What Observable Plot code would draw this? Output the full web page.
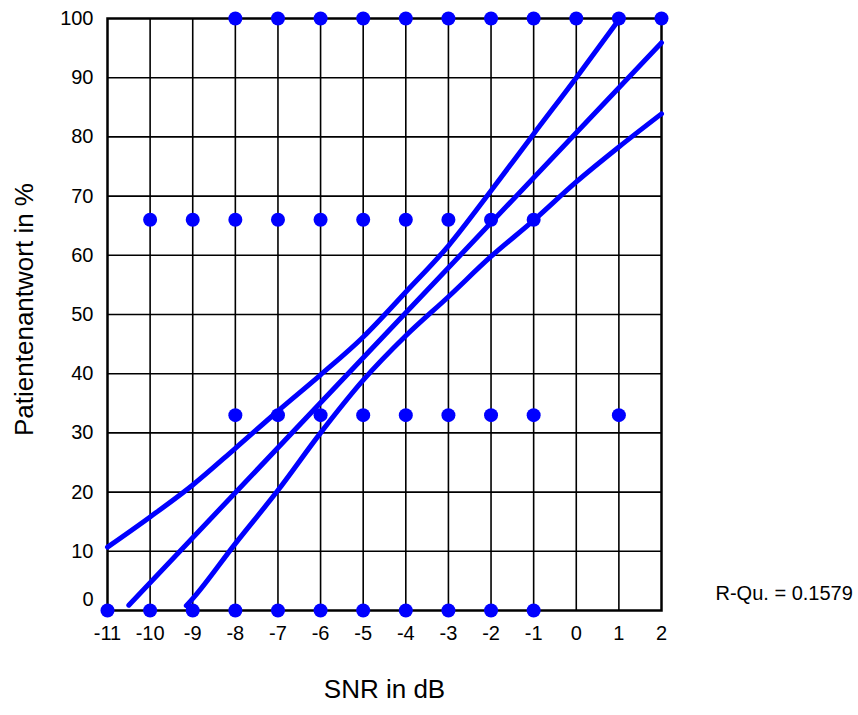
<!DOCTYPE html>
<html>
<head>
<meta charset="utf-8">
<script src="https://cdn.jsdelivr.net/npm/d3@7"></script>
<script src="https://cdn.jsdelivr.net/npm/@observablehq/plot@0.6"></script>
<style>
  html, body { margin: 0; padding: 0; background: #ffffff; }
  #chart svg { display: block; }
</style>
</head>
<body>
<div id="chart"></div>
<script>
// Observed responses (SNR in dB, patient response in %)
const snr = [
  -8, -7, -6, -5, -4, -3, -2, -1, 0, 1, 2,
  -10, -9, -8, -7, -6, -5, -4, -3, -2, -1,
  -8, -7, -6, -5, -4, -3, -2, -1, 1,
  -11, -10, -9, -8, -7, -6, -5, -4, -3, -2, -1
];
const response = [
  100, 100, 100, 100, 100, 100, 100, 100, 100, 100, 100,
  66, 66, 66, 66, 66, 66, 66, 66, 66, 66,
  33, 33, 33, 33, 33, 33, 33, 33, 33,
  0, 0, 0, 0, 0, 0, 0, 0, 0, 0, 0
];

// Regression line
const fitX = [-10.5, 2];
const fitY = [0.9, 95.9];

// Upper confidence band
const upperX = [-11, -10, -9, -8, -7, -6, -5, -4, -3, -2, -1, 0, 1];
const upperY = [10.7, 15.8, 21.2, 27.4, 33.7, 39.8, 46.2, 53.8, 61.6, 70.9, 80.5, 90, 99.8];

// Lower confidence band
const lowerX = [-9.15, -9, -8, -7, -6, -5, -4, -3, -2, -1, 0, 1, 2];
const lowerY = [0.8, 2, 11.3, 20.3, 30, 38.9, 46.4, 53, 59.8, 65.9, 72.4, 78.3, 83.9];

// Axis ticks
const xTicks = [-11, -10, -9, -8, -7, -6, -5, -4, -3, -2, -1, 0, 1, 2];
const yTicks = [10, 20, 30, 40, 50, 60, 70, 80, 90, 100];
const xGrid = [-10, -9, -8, -7, -6, -5, -4, -3, -2, -1, 0, 1];
const yGrid = [10, 20, 30, 40, 50, 60, 70, 80, 90];

const xTitle = "SNR in dB";
const yTitle = "Patientenantwort in %";
const rLabel = "R-Qu. = 0.1579";

const points = snr.map((x, i) => ({x, y: response[i]}));
const fit = fitX.map((x, i) => ({x, y: fitY[i]}));
const upper = upperX.map((x, i) => ({x, y: upperY[i]}));
const lower = lowerX.map((x, i) => ({x, y: lowerY[i]}));

const blue = "#0000ff";

const chart = Plot.plot({
  width: 858,
  height: 715,
  marginLeft: 107,
  marginRight: 197,
  marginTop: 18,
  marginBottom: 105,
  style: {fontFamily: "'Liberation Sans', Arial, sans-serif", fontSize: "20px", background: "#ffffff", color: "black"},
  x: {domain: [-11, 2]},
  y: {domain: [0, 100]},
  marks: [
    Plot.ruleX(xGrid, {stroke: "black", strokeWidth: 1.6}),
    Plot.ruleY(yGrid, {stroke: "black", strokeWidth: 1.6}),
    Plot.frame({stroke: "black", strokeWidth: 2.5}),
    Plot.axisX({ticks: xTicks, tickSize: 0, tickPadding: 15, tickFormat: d => String(d), label: null, fontSize: 20, fill: "black"}),
    Plot.axisY({ticks: yTicks, tickSize: 0, tickPadding: 14, tickFormat: d => String(d), label: null, fontSize: 20, fill: "black"}),
    Plot.axisY({ticks: [0], tickSize: 0, tickPadding: 14, tickFormat: d => String(d), label: null, fontSize: 20, dy: -11, fill: "black"}),
    Plot.line(upper, {x: "x", y: "y", stroke: blue, strokeWidth: 5, curve: "monotone-x"}),
    Plot.line(lower, {x: "x", y: "y", stroke: blue, strokeWidth: 5, curve: "monotone-x"}),
    Plot.line(fit, {x: "x", y: "y", stroke: blue, strokeWidth: 5}),
    Plot.dot(points, {x: "x", y: "y", r: 7, fill: blue, stroke: "none"}),
    Plot.text([xTitle], {frameAnchor: "bottom", textAnchor: "middle", dy: 87, fontSize: 26, fill: "black"}),
    Plot.text([yTitle], {frameAnchor: "left", textAnchor: "middle", rotate: -90, dx: -83, dy: -5, fontSize: 26, fill: "black"}),
    Plot.text([rLabel], {frameAnchor: "bottom-right", textAnchor: "start", dx: 54, dy: -11, fontSize: 20, fill: "black"})
  ]
});
document.getElementById("chart").appendChild(chart);
</script>
</body>
</html>
